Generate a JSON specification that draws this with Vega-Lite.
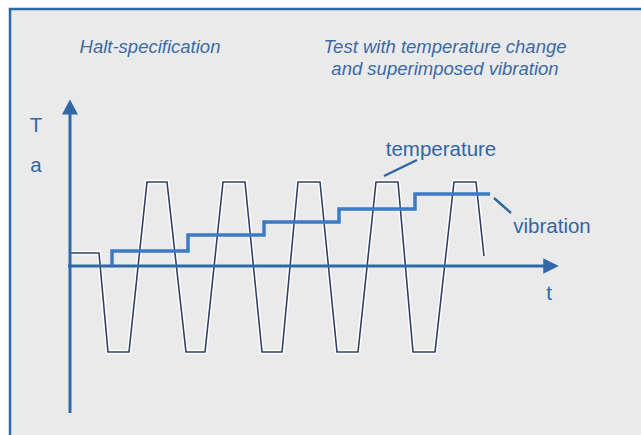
{
  "$schema": "https://vega.github.io/schema/vega-lite/v6.json",
  "width": 641,
  "height": 435,
  "autosize": {"type": "none"},
  "padding": 0,
  "background": "white",
  "config": {"view": {"stroke": null, "fill": "white"}},
  "datasets": {
    "panel": [{"x": -60, "x2": 600, "y": 257, "y2": -200}],
    "borders": [
      {"x": -60, "x2": -60, "y": 258, "y2": -200},
      {"x": -61, "x2": 600, "y": 257, "y2": 257}
    ],
    "temperature": [
      {"t": 0, "v": 13}, {"t": 29, "v": 13}, {"t": 38, "v": -86}, {"t": 59, "v": -86},
      {"t": 77, "v": 84}, {"t": 97, "v": 84}, {"t": 116, "v": -86}, {"t": 135, "v": -86},
      {"t": 153, "v": 84}, {"t": 175, "v": 84}, {"t": 192, "v": -86}, {"t": 212, "v": -86},
      {"t": 228, "v": 84}, {"t": 250, "v": 84}, {"t": 267, "v": -86}, {"t": 288, "v": -86},
      {"t": 306, "v": 84}, {"t": 328, "v": 84}, {"t": 343, "v": -86}, {"t": 365, "v": -86},
      {"t": 384, "v": 84}, {"t": 406, "v": 84}, {"t": 414, "v": 10}
    ],
    "vibration": [
      {"t": 42, "v": 0}, {"t": 42, "v": 15}, {"t": 118, "v": 31}, {"t": 194, "v": 44},
      {"t": 269, "v": 57}, {"t": 345, "v": 72}, {"t": 420, "v": 72}
    ],
    "axes": [
      {"x": 0, "x2": 0, "y": -147, "y2": 156},
      {"x": -2, "x2": 474, "y": 0, "y2": 0}
    ],
    "arrows": [
      {"x": 0, "y": 159, "dir": "up"},
      {"x": 481, "y": 0, "dir": "right"}
    ],
    "leaders": [
      {"x": 314, "x2": 347, "y": 90, "y2": 106},
      {"x": 424, "x2": 441, "y": 68, "y2": 53}
    ],
    "labels": [
      {"x": -34, "y": 134, "text": "T"},
      {"x": -34, "y": 94, "text": "a"},
      {"x": 479, "y": -34, "text": "t"},
      {"x": 371, "y": 110, "text": "temperature"},
      {"x": 482, "y": 33, "text": "vibration"}
    ],
    "titles": [
      {"x": 80, "y": 213, "text": ["Halt-specification"]},
      {"x": 375, "y": 213, "text": ["Test with temperature change", "and superimposed vibration"]}
    ]
  },
  "layer": [
    {
      "data": {"name": "panel"},
      "mark": {"type": "rect", "fill": "#eaeaea", "strokeWidth": 0, "clip": true},
      "encoding": {
        "x": {"field": "x", "type": "quantitative", "scale": {"domain": [-70, 571], "nice": false, "zero": false}, "axis": null},
        "x2": {"field": "x2"},
        "y": {"field": "y", "type": "quantitative", "scale": {"domain": [-169, 266], "nice": false, "zero": false}, "axis": null},
        "y2": {"field": "y2"}
      }
    },
    {
      "data": {"name": "borders"},
      "mark": {"type": "rule", "stroke": "#2d6aa3", "strokeWidth": 2.5, "clip": true},
      "encoding": {
        "x": {"field": "x", "type": "quantitative"},
        "x2": {"field": "x2"},
        "y": {"field": "y", "type": "quantitative"},
        "y2": {"field": "y2"}
      }
    },
    {
      "data": {"name": "temperature"},
      "mark": {"type": "line", "stroke": "white", "strokeWidth": 4.5, "strokeJoin": "miter"},
      "encoding": {
        "x": {"field": "t", "type": "quantitative"},
        "y": {"field": "v", "type": "quantitative"},
        "order": {"field": "t"}
      }
    },
    {
      "data": {"name": "temperature"},
      "mark": {"type": "line", "stroke": "#2f4166", "strokeWidth": 1.6, "strokeJoin": "miter"},
      "encoding": {
        "x": {"field": "t", "type": "quantitative"},
        "y": {"field": "v", "type": "quantitative"},
        "order": {"field": "t"}
      }
    },
    {
      "data": {"name": "axes"},
      "mark": {"type": "rule", "stroke": "#3168a6", "strokeWidth": 3},
      "encoding": {
        "x": {"field": "x", "type": "quantitative"},
        "x2": {"field": "x2"},
        "y": {"field": "y", "type": "quantitative"},
        "y2": {"field": "y2"}
      }
    },
    {
      "data": {"name": "vibration"},
      "mark": {"type": "line", "interpolate": "step-after", "stroke": "#3b7bc6", "strokeWidth": 3.5, "strokeJoin": "miter"},
      "encoding": {
        "x": {"field": "t", "type": "quantitative"},
        "y": {"field": "v", "type": "quantitative"},
        "order": {"field": "t"}
      }
    },
    {
      "data": {"name": "arrows"},
      "transform": [{"filter": "datum.dir === 'up'"}],
      "mark": {"type": "point", "shape": "M0,-1L-1.07,1L1.07,1Z", "size": 225, "filled": true, "fill": "#3168a6", "opacity": 1, "strokeWidth": 0},
      "encoding": {
        "x": {"field": "x", "type": "quantitative"},
        "y": {"field": "y", "type": "quantitative"}
      }
    },
    {
      "data": {"name": "arrows"},
      "transform": [{"filter": "datum.dir === 'right'"}],
      "mark": {"type": "point", "shape": "M1,0L-1,-1L-1,1Z", "size": 240, "filled": true, "fill": "#3168a6", "opacity": 1, "strokeWidth": 0},
      "encoding": {
        "x": {"field": "x", "type": "quantitative"},
        "y": {"field": "y", "type": "quantitative"}
      }
    },
    {
      "data": {"name": "leaders"},
      "mark": {"type": "rule", "stroke": "#2f66a3", "strokeWidth": 2.5},
      "encoding": {
        "x": {"field": "x", "type": "quantitative"},
        "x2": {"field": "x2"},
        "y": {"field": "y", "type": "quantitative"},
        "y2": {"field": "y2"}
      }
    },
    {
      "data": {"name": "labels"},
      "mark": {"type": "text", "font": "Liberation Sans", "fontSize": 20.5, "fill": "#3366a3", "align": "center", "baseline": "alphabetic"},
      "encoding": {
        "x": {"field": "x", "type": "quantitative"},
        "y": {"field": "y", "type": "quantitative"},
        "text": {"field": "text"}
      }
    },
    {
      "data": {"name": "titles"},
      "mark": {"type": "text", "font": "Liberation Sans", "fontSize": 18.5, "fontStyle": "italic", "fill": "#3a6aa6", "align": "center", "baseline": "alphabetic", "lineHeight": 22},
      "encoding": {
        "x": {"field": "x", "type": "quantitative"},
        "y": {"field": "y", "type": "quantitative"},
        "text": {"field": "text"}
      }
    }
  ]
}
